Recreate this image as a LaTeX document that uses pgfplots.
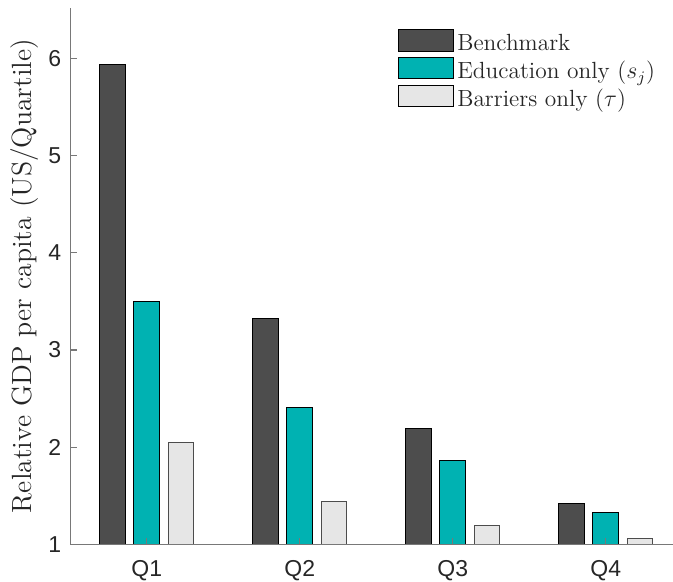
\documentclass[border=0pt]{standalone}
\usepackage{fontspec}
\usepackage{pgfplots}
\pgfplotsset{compat=1.18}
\newfontfamily\tickfont{Liberation Sans}
\definecolor{bench}{RGB}{77,77,77}
\definecolor{edu}{RGB}{0,178,178}
\definecolor{barr}{RGB}{230,230,230}
\definecolor{axgray}{RGB}{120,120,120}
\definecolor{txtgray}{RGB}{38,38,38}
\begin{document}
\begin{tikzpicture}
\useasboundingbox (-35.15pt,-18.85pt) rectangle (301.35pt,272.15pt);
\begin{axis}[
  at={(0,0)}, anchor=south west,
  scale only axis, width=301.35pt, height=268.15pt,
  ybar, bar width=0.168,
  xmin=0.5, xmax=4.44, ymin=1, ymax=6.52,
  axis x line*=bottom, axis y line*=left,
  axis line style={axgray, line width=0.6pt, -},
  axis on top,
  xtick={1,2,3,4}, xticklabels={Q1,Q2,Q3,Q4},
  ytick={1,2,3,4,5,6},
  tick align=inside, major tick length=3.2pt,
  tick style={axgray, line width=0.6pt},
  /pgf/number format/assume math mode=true,
  ticklabel style={font=\fontsize{11.5}{13}\tickfont, text=txtgray},
  xticklabel style={yshift=-4.4pt},
  yticklabel style={xshift=-1pt},
  ylabel={Relative GDP per capita (US/Quartile)},
  ylabel style={at={(axis description cs:-0.0519,0.5)}, anchor=south, inner sep=0pt, font=\fontsize{13.9}{16}\selectfont, text=txtgray},
  legend style={at={(axis description cs:0.5439,0.9608)}, anchor=north west, draw=none, fill=none, inner sep=0pt, outer sep=0pt, row sep=0.25pt, column sep=1.6pt, font=\fontsize{11.7}{13}\selectfont, text=txtgray, nodes={inner sep=0pt, text height=8pt, text depth=2.75pt}},
  legend cell align=left,
  every axis plot post/.append style={legend image code/.code={\draw[##1, draw=black, line width=0.5pt] (0pt,-2.75pt) rectangle (27.5pt,8pt);}},
]
\addplot[fill=bench, draw=black, line width=0.5pt, bar shift=-0.224] coordinates {(1,5.94) (2,3.32) (3,2.19) (4,1.42)};
\addplot[fill=edu, draw=black, line width=0.5pt, bar shift=0] coordinates {(1,3.50) (2,2.41) (3,1.86) (4,1.33)};
\addplot[fill=barr, draw=black!70, line width=0.5pt, bar shift=0.224] coordinates {(1,2.05) (2,1.44) (3,1.19) (4,1.06)};
\legend{Benchmark, Education only ($s_j$), Barriers only ($\tau$)}
\end{axis}
\end{tikzpicture}
\end{document}
